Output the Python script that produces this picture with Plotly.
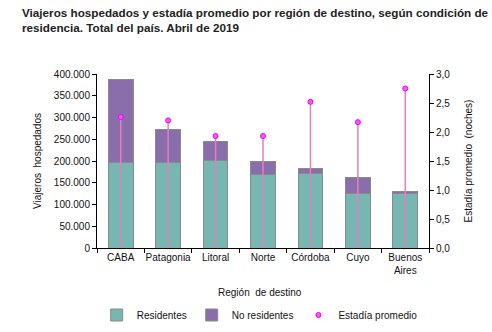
import plotly.graph_objects as go

regiones = ["CABA", "Patagonia", "Litoral", "Norte", "Córdoba", "Cuyo", "Buenos<br>Aires"]
residentes = [196000, 197500, 201500, 170000, 171500, 126000, 124500]
no_residentes = [192500, 74000, 44000, 30000, 12300, 35000, 4500]
estadia = [2.26, 2.20, 1.93, 1.93, 2.52, 2.17, 2.75]
left_ticks = [0, 50000, 100000, 150000, 200000, 250000, 300000, 350000, 400000]
right_ticks = [0, 0.5, 1.0, 1.5, 2.0, 2.5, 3.0]

FONT = "Liberation Sans, Arial, sans-serif"

fig = go.Figure()
fig.add_trace(go.Bar(x=regiones, y=residentes, name="Residentes",
                     marker=dict(color="#77b7b1", line=dict(color="#8a8a8a", width=1))))
fig.add_trace(go.Bar(x=regiones, y=no_residentes, name="No residentes",
                     marker=dict(color="#8a6dab", line=dict(color="#8a8a8a", width=1))))
fig.add_trace(go.Scatter(x=regiones, y=estadia, name="Estadía promedio", yaxis="y2",
                         mode="markers",
                         marker=dict(symbol="circle", size=5, color="#ff55ff",
                                     line=dict(color="#ee00ee", width=1)),
                         error_y=dict(type="data", symmetric=False,
                                      array=[0] * len(estadia), arrayminus=estadia,
                                      color="#e27fbf", thickness=1.5, width=0)))

fig.update_layout(
    width=492, height=332,
    margin=dict(l=97, r=63, t=74, b=84, autoexpand=False),
    paper_bgcolor="white", plot_bgcolor="white",
    barmode="stack", bargap=0.48,
    separators=",.",
    font=dict(family=FONT, size=10, color="#111"),
    showlegend=True,
    legend=dict(orientation="h", traceorder="normal", x=0.49, xanchor="center",
                y=-(315 - 248) / 174, yanchor="middle",
                font=dict(size=10), itemwidth=30, tracegroupgap=0,
                bgcolor="rgba(0,0,0,0)"),
    xaxis=dict(showline=True, linecolor="black", linewidth=1, ticks="outside",
               tickson="boundaries", ticklen=4, tickcolor="black", tickangle=0,
               tickfont=dict(size=10), showgrid=False),
    yaxis=dict(range=[0, 400000], tickvals=left_ticks, tickformat=",d",
               showline=True, linecolor="black", linewidth=1, ticks="outside",
               ticklen=4, tickcolor="black", showgrid=False, zeroline=False,
               tickfont=dict(size=10),
               title=dict(text="Viajeros  hospedados", font=dict(size=10), standoff=10)),
    yaxis2=dict(range=[0, 3.0], tickvals=right_ticks, tickformat=".1f",
                overlaying="y", side="right",
                showline=True, linecolor="black", linewidth=1, ticks="outside",
                ticklen=4, tickcolor="black", showgrid=False, zeroline=False,
                tickfont=dict(size=10),
                title=dict(text="Estadía promedio  (noches)", font=dict(size=10), standoff=15)),
    annotations=[
        dict(text="<b>Viajeros hospedados y estadía promedio por región de destino, según condición de<br>residencia. Total del país. Abril de 2019</b>",
             xref="paper", yref="paper", x=-77 / 332, y=1 + 70 / 174,
             xanchor="left", yanchor="top", align="left", showarrow=False,
             font=dict(family=FONT, size=11.7, color="#222")),
        dict(text="Región  de destino", xref="paper", yref="paper",
             x=0.49, y=-(292 - 248) / 174, xanchor="center", yanchor="middle",
             showarrow=False, font=dict(size=10)),
    ],
)

fig.write_html("out.html")
